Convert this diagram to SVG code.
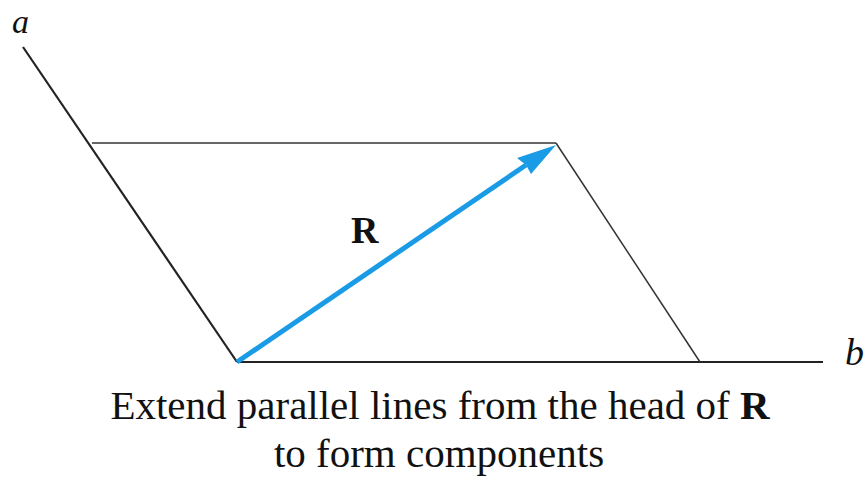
<svg xmlns="http://www.w3.org/2000/svg" width="867" height="481" viewBox="0 0 867 481">
<style>
.axis{stroke:#222;stroke-width:2.2;fill:none}
.par{stroke:#333;stroke-width:1.5;fill:none}
.lbl{font-family:"Liberation Serif",serif;fill:#111}
.it{font-style:italic}
.bd{font-weight:bold}
</style>
<rect width="867" height="481" fill="#fff"/>
<g id="connectors">
<line class="axis" x1="23" y1="47" x2="237" y2="362"/>
<line class="axis" x1="237" y1="362" x2="823" y2="362"/>
<line class="par" x1="92" y1="143" x2="556" y2="143"/>
<line class="par" x1="556" y1="143" x2="700" y2="362"/>
<line x1="237" y1="362" x2="526" y2="165" stroke="#1a9be6" stroke-width="5"/>
<polygon points="556,145 517,158 526,165 531,174" fill="#1a9be6"/>
</g>
<g id="label-a"><text class="lbl it" x="12" y="33" font-size="34">a</text></g>
<g id="label-b"><text class="lbl it" x="845" y="365" font-size="38">b</text></g>
<g id="label-R"><text class="lbl bd" x="351" y="243" font-size="38">R</text></g>
<g id="caption">
<text class="lbl" x="440" y="419" font-size="41" text-anchor="middle">Extend parallel lines from the head of <tspan class="bd">R</tspan></text>
<text class="lbl" x="439" y="467" font-size="41" text-anchor="middle">to form components</text>
</g>
</svg>
